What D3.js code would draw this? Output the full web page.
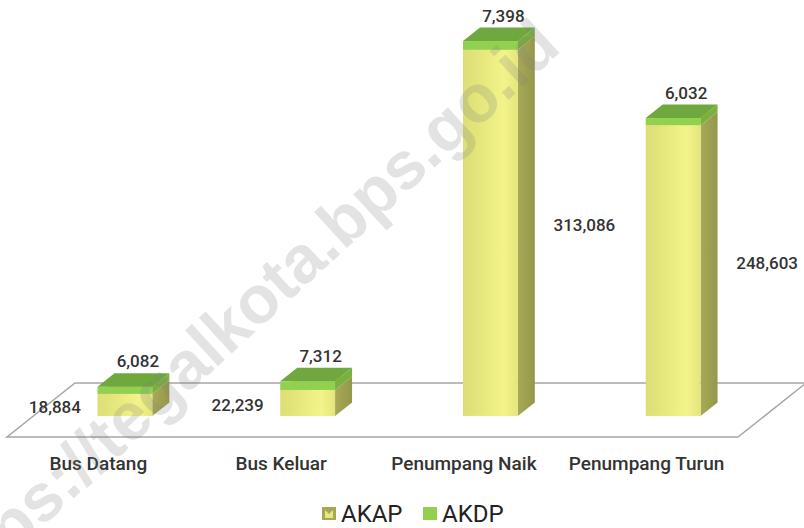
<!DOCTYPE html>
<html>
<head>
<meta charset="utf-8">
<script src="https://cdn.jsdelivr.net/npm/d3@7"></script>
<style>
  html, body { margin: 0; padding: 0; background: #ffffff; }
  svg { display: block; }
</style>
</head>
<body>
<div id="chart"></div>
<script>
const categories = ["Bus Datang", "Bus Keluar", "Penumpang Naik", "Penumpang Turun"];
const akap = [18884, 22239, 313086, 248603];
const akdp = [6082, 7312, 7398, 6032];
const seriesNames = ["AKAP", "AKDP"];
const watermarkText = "https://tegalkota.bps.go.id";

const W = 804, H = 528;
const svg = d3.select("#chart").append("svg").attr("width", W).attr("height", H);
const defs = svg.append("defs");

// gradients
const gFront = defs.append("linearGradient").attr("id", "akapFront").attr("x1", 0).attr("x2", 1).attr("y1", 0).attr("y2", 0);
[["0%", "#dcde76"], ["45%", "#e9eb80"], ["75%", "#f3f38a"], ["100%", "#e4e67c"]].forEach(s => gFront.append("stop").attr("offset", s[0]).attr("stop-color", s[1]));
const gSide = defs.append("linearGradient").attr("id", "akapSide").attr("x1", 0).attr("x2", 1).attr("y1", 0).attr("y2", 0);
[["0%", "#a8aa57"], ["100%", "#94964b"]].forEach(s => gSide.append("stop").attr("offset", s[0]).attr("stop-color", s[1]));

// projection geometry
const floorLeft = 7, floorRight = 738, floorFrontY = 437;
const depthDX = 68, depthDY = -54;           // full floor depth vector
const barFront = 0.39, barDepth = 0.25;       // fractions of floor depth

const x = d3.scaleBand().domain(categories).range([floorLeft, floorRight])
  .paddingInner(0.7).paddingOuter(0.35);
const baseY = floorFrontY + depthDY * barFront;
const y = d3.scaleLinear().domain([0, 330000]).range([baseY, baseY - 386]);

const offX = depthDX * barFront, offY = depthDY * barFront;
const bdx = depthDX * barDepth, bdy = depthDY * barDepth;

// floor
svg.append("path")
  .attr("d", `M${floorLeft},${floorFrontY} L${floorRight},${floorFrontY} L${floorRight + depthDX},${floorFrontY + depthDY} L${floorLeft + depthDX},${floorFrontY + depthDY} Z`)
  .attr("fill", "#ffffff").attr("stroke", "#a6a6a6").attr("stroke-width", 1.5);

const data = categories.map((c, i) => ({ cat: c, akap: akap[i], akdp: akdp[i] }));
const stack = d3.stack().keys(["akap", "akdp"])(data);

const colors = {
  akap: { front: "url(#akapFront)", side: "url(#akapSide)", top: "#d6d86e" },
  akdp: { front: "#92d050", side: "#79b03f", top: "#6fa83e" }
};

const barsG = svg.append("g");
data.forEach((d, i) => {
  const x0 = x(d.cat) + offX;
  const x1 = x0 + x.bandwidth();
  stack.forEach(layer => {
    const key = layer.key;
    const v0 = layer[i][0], v1 = layer[i][1];
    const yb = y(v0), yt = y(v1);
    const c = colors[key];
    barsG.append("path")
      .attr("d", `M${x1},${yb} L${x1 + bdx},${yb + bdy} L${x1 + bdx},${yt + bdy} L${x1},${yt} Z`)
      .attr("fill", c.side);
    barsG.append("rect")
      .attr("x", x0).attr("y", yt).attr("width", x1 - x0).attr("height", yb - yt)
      .attr("fill", c.front);
    barsG.append("path")
      .attr("d", `M${x0},${yt} L${x1},${yt} L${x1 + bdx},${yt + bdy} L${x0 + bdx},${yt + bdy} Z`)
      .attr("fill", c.top);
  });
});

// labels
const fmt = d3.format(",");
const labelFont = "Roboto, 'Liberation Sans', sans-serif";
const labelsG = svg.append("g").attr("font-family", labelFont).attr("font-weight", 500).attr("fill", "#333333");
data.forEach((d, i) => {
  const cx = x(d.cat) + offX + x.bandwidth() / 2;
  const segH = y(0) - y(d.akap);
  const ax = segH > 100 ? cx + 94 : cx - 70;
  const ay = (y(0) + y(d.akap)) / 2 + (segH > 100 ? -8 : 2);
  labelsG.append("text").attr("x", ax).attr("y", ay)
    .attr("text-anchor", "middle").attr("dominant-baseline", "central")
    .attr("font-size", 17).text(fmt(d.akap));
  const topBack = y(d.akap + d.akdp) + bdy;
  labelsG.append("text").attr("x", cx + 13).attr("y", topBack - 12)
    .attr("text-anchor", "middle").attr("dominant-baseline", "central")
    .attr("font-size", 17).text(fmt(d.akdp));
});

// category axis labels
const catG = svg.append("g").attr("font-family", labelFont).attr("font-weight", 500).attr("fill", "#333333");
categories.forEach(c => {
  catG.append("text")
    .attr("x", x(c) + x.bandwidth() / 2)
    .attr("y", 463)
    .attr("text-anchor", "middle").attr("dominant-baseline", "central")
    .attr("font-size", 19).text(c);
});

// legend
const legendG = svg.append("g").attr("font-family", labelFont).attr("fill", "#222222");
const legendX = [322, 423];
seriesNames.forEach((s, i) => {
  const lx = legendX[i];
  if (i === 0) {
    legendG.append("rect").attr("x", lx).attr("y", 507).attr("width", 14).attr("height", 13).attr("fill", "#a6a855");
    legendG.append("path").attr("d", `M${lx + 3},${510} L${lx + 7},${514} L${lx + 11},${510} L${lx + 11},${518} L${lx + 3},${518} Z`).attr("fill", "#e7e97e");
  } else {
    legendG.append("rect").attr("x", lx).attr("y", 507).attr("width", 14).attr("height", 13).attr("fill", "#92d050");
  }
  legendG.append("text").attr("x", lx + 19).attr("y", 513.5)
    .attr("dominant-baseline", "central").attr("font-size", 24).text(s);
});

// watermark
svg.append("text")
  .attr("transform", "translate(43,502) rotate(-42.5)")
  .attr("x", -145).attr("y", 18)
  .attr("font-family", "'Liberation Sans', Arial, sans-serif")
  .attr("font-weight", "bold").attr("font-size", 67)
  .attr("fill", "rgba(128,128,128,0.22)")
  .text(watermarkText);
</script>
</body>
</html>
